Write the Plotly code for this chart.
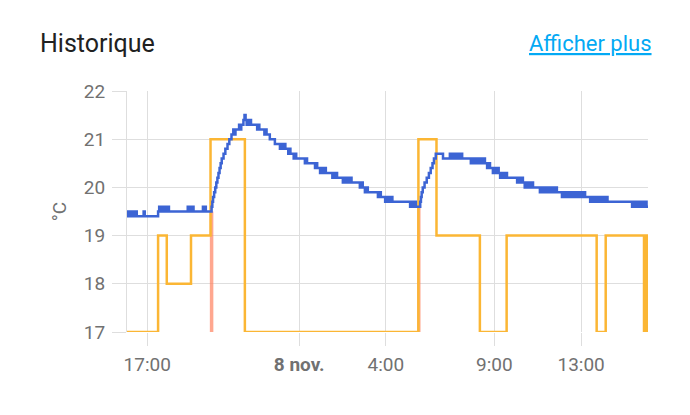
import plotly.graph_objects as go

# ---------------- data ----------------
x_start = "2023-11-07 16:04"
x_end = "2023-11-08 16:05"

tick_vals = ["2023-11-07 17:00", "2023-11-08 00:00", "2023-11-08 04:00",
             "2023-11-08 09:00", "2023-11-08 13:00"]
tick_text = ["17:00", "<b>8 nov.</b>", "4:00", "9:00", "13:00"]

y_min, y_max = 17, 22

# target temperature (orange step line)
target_times = [
    "2023-11-07 16:04", "2023-11-07 17:30", "2023-11-07 17:54", "2023-11-07 19:01",
    "2023-11-07 19:55", "2023-11-07 21:30", "2023-11-08 05:30", "2023-11-08 06:20",
    "2023-11-08 08:20", "2023-11-08 09:34", "2023-11-08 13:43", "2023-11-08 14:08",
    "2023-11-08 15:54", "2023-11-08 15:57", "2023-11-08 16:00", "2023-11-08 16:03",
    "2023-11-08 16:05",
]
target_values = [17, 19, 18, 19, 21, 17, 21, 19, 17, 19, 17, 19, 17, 19, 17, 19, 19]

# current temperature (blue step line)
current_times = [
    "2023-11-07 16:04", "2023-11-07 16:07", "2023-11-07 16:10", "2023-11-07 16:13",
    "2023-11-07 16:16", "2023-11-07 16:19", "2023-11-07 16:22", "2023-11-07 16:25",
    "2023-11-07 16:28", "2023-11-07 16:31", "2023-11-07 16:50", "2023-11-07 16:53",
    "2023-11-07 17:30", "2023-11-07 17:33", "2023-11-07 17:36", "2023-11-07 17:39",
    "2023-11-07 17:42", "2023-11-07 17:45", "2023-11-07 17:48", "2023-11-07 17:51",
    "2023-11-07 17:54", "2023-11-07 17:57", "2023-11-07 18:00", "2023-11-07 18:52",
    "2023-11-07 18:55", "2023-11-07 18:58", "2023-11-07 19:01", "2023-11-07 19:04",
    "2023-11-07 19:08", "2023-11-07 19:34", "2023-11-07 19:37", "2023-11-07 19:40",
    "2023-11-07 19:42", "2023-11-07 19:58", "2023-11-07 20:00", "2023-11-07 20:02",
    "2023-11-07 20:05", "2023-11-07 20:08", "2023-11-07 20:11", "2023-11-07 20:14",
    "2023-11-07 20:17", "2023-11-07 20:20", "2023-11-07 20:23", "2023-11-07 20:26",
    "2023-11-07 20:31", "2023-11-07 20:36", "2023-11-07 20:42", "2023-11-07 20:47",
    "2023-11-07 20:53", "2023-11-07 20:58", "2023-11-07 21:01", "2023-11-07 21:04",
    "2023-11-07 21:14", "2023-11-07 21:17", "2023-11-07 21:20", "2023-11-07 21:26",
    "2023-11-07 21:29", "2023-11-07 21:32", "2023-11-07 21:35", "2023-11-07 21:38",
    "2023-11-07 21:41", "2023-11-07 21:44", "2023-11-07 21:47", "2023-11-07 22:04",
    "2023-11-07 22:07", "2023-11-07 22:10", "2023-11-07 22:24", "2023-11-07 22:27",
    "2023-11-07 22:30", "2023-11-07 22:39", "2023-11-07 22:53", "2023-11-07 23:07",
    "2023-11-07 23:10", "2023-11-07 23:14", "2023-11-07 23:18", "2023-11-07 23:22",
    "2023-11-07 23:30", "2023-11-07 23:33", "2023-11-07 23:36", "2023-11-07 23:45",
    "2023-11-07 23:48", "2023-11-07 23:52",
    "2023-11-08 00:16", "2023-11-08 00:19", "2023-11-08 00:22", "2023-11-08 00:44",
    "2023-11-08 00:47", "2023-11-08 00:50", "2023-11-08 00:58", "2023-11-08 01:02",
    "2023-11-08 01:06", "2023-11-08 01:10", "2023-11-08 01:14", "2023-11-08 01:32",
    "2023-11-08 01:35", "2023-11-08 01:39", "2023-11-08 01:42", "2023-11-08 01:45",
    "2023-11-08 02:01", "2023-11-08 02:05", "2023-11-08 02:09", "2023-11-08 02:13",
    "2023-11-08 02:17", "2023-11-08 02:21", "2023-11-08 02:25", "2023-11-08 02:48",
    "2023-11-08 02:52", "2023-11-08 02:56", "2023-11-08 03:02", "2023-11-08 03:06",
    "2023-11-08 03:10", "2023-11-08 03:38", "2023-11-08 03:42", "2023-11-08 03:46",
    "2023-11-08 03:58", "2023-11-08 04:01", "2023-11-08 04:04", "2023-11-08 04:07",
    "2023-11-08 04:11", "2023-11-08 04:14", "2023-11-08 04:18", "2023-11-08 05:07",
    "2023-11-08 05:11", "2023-11-08 05:15", "2023-11-08 05:19", "2023-11-08 05:23",
    "2023-11-08 05:35", "2023-11-08 05:37", "2023-11-08 05:39", "2023-11-08 05:42",
    "2023-11-08 05:47", "2023-11-08 05:53", "2023-11-08 05:59", "2023-11-08 06:04",
    "2023-11-08 06:09", "2023-11-08 06:13", "2023-11-08 06:18", "2023-11-08 06:38",
    "2023-11-08 06:57", "2023-11-08 07:00", "2023-11-08 07:04", "2023-11-08 07:08",
    "2023-11-08 07:12", "2023-11-08 07:16", "2023-11-08 07:20", "2023-11-08 07:24",
    "2023-11-08 07:28", "2023-11-08 07:31", "2023-11-08 07:55", "2023-11-08 07:57",
    "2023-11-08 08:03", "2023-11-08 08:06", "2023-11-08 08:10", "2023-11-08 08:14",
    "2023-11-08 08:18", "2023-11-08 08:22", "2023-11-08 08:26", "2023-11-08 08:30",
    "2023-11-08 08:34", "2023-11-08 08:40", "2023-11-08 08:44", "2023-11-08 08:48",
    "2023-11-08 08:56", "2023-11-08 09:00", "2023-11-08 09:04", "2023-11-08 09:08",
    "2023-11-08 09:12", "2023-11-08 09:16", "2023-11-08 09:20", "2023-11-08 09:25",
    "2023-11-08 09:30", "2023-11-08 09:35", "2023-11-08 10:03", "2023-11-08 10:07",
    "2023-11-08 10:11", "2023-11-08 10:15", "2023-11-08 10:19", "2023-11-08 10:24",
    "2023-11-08 10:28", "2023-11-08 10:32", "2023-11-08 10:36", "2023-11-08 10:40",
    "2023-11-08 10:44", "2023-11-08 10:47", "2023-11-08 11:06", "2023-11-08 11:10",
    "2023-11-08 11:14", "2023-11-08 11:18", "2023-11-08 11:22", "2023-11-08 11:26",
    "2023-11-08 11:30", "2023-11-08 11:34", "2023-11-08 11:38", "2023-11-08 11:42",
    "2023-11-08 11:46", "2023-11-08 11:50", "2023-11-08 11:53", "2023-11-08 12:07",
    "2023-11-08 12:10", "2023-11-08 12:14", "2023-11-08 12:18", "2023-11-08 12:22",
    "2023-11-08 12:26", "2023-11-08 12:30", "2023-11-08 12:34", "2023-11-08 12:38",
    "2023-11-08 12:42", "2023-11-08 12:46", "2023-11-08 12:50", "2023-11-08 12:54",
    "2023-11-08 12:58", "2023-11-08 13:02", "2023-11-08 13:06", "2023-11-08 13:11",
    "2023-11-08 13:25", "2023-11-08 13:29", "2023-11-08 13:33", "2023-11-08 13:37",
    "2023-11-08 13:41", "2023-11-08 13:45", "2023-11-08 13:49", "2023-11-08 13:53",
    "2023-11-08 13:57", "2023-11-08 14:01", "2023-11-08 14:06", "2023-11-08 14:11",
    "2023-11-08 14:13", "2023-11-08 15:21", "2023-11-08 15:25", "2023-11-08 15:29",
    "2023-11-08 15:33", "2023-11-08 15:37", "2023-11-08 15:41", "2023-11-08 15:45",
    "2023-11-08 15:49", "2023-11-08 15:53", "2023-11-08 15:57", "2023-11-08 16:01",
    "2023-11-08 16:05",
]
current_values = [
    19.5, 19.4, 19.5, 19.4, 19.5, 19.4, 19.5, 19.4, 19.5, 19.4, 19.5, 19.4,
    19.5, 19.6, 19.5, 19.6, 19.5, 19.6, 19.5, 19.6, 19.5, 19.6, 19.5, 19.6,
    19.5, 19.6, 19.5, 19.6, 19.5, 19.6, 19.5, 19.6, 19.5, 19.6, 19.7, 19.8,
    19.9, 20.0, 20.1, 20.2, 20.3, 20.4, 20.5, 20.6, 20.7, 20.8, 20.9, 21.0,
    21.1, 21.2, 21.1, 21.2, 21.3, 21.2, 21.3, 21.4, 21.5, 21.4, 21.3, 21.4,
    21.3, 21.4, 21.3, 21.2, 21.3, 21.2, 21.1, 21.2, 21.1, 21.0, 20.9, 20.8,
    20.9, 20.8, 20.9, 20.8, 20.7, 20.8, 20.7, 20.6, 20.7, 20.6,
    20.5, 20.6, 20.5, 20.4, 20.5, 20.4, 20.3, 20.4, 20.3, 20.4, 20.3, 20.2,
    20.3, 20.2, 20.3, 20.2, 20.1, 20.2, 20.1, 20.2, 20.1, 20.2, 20.1, 20.0,
    20.1, 20.0, 19.9, 20.0, 19.9, 19.8, 19.9, 19.8, 19.7, 19.8, 19.7, 19.8,
    19.7, 19.8, 19.7, 19.6, 19.7, 19.6, 19.7, 19.6, 19.7, 19.8, 19.9, 20.0,
    20.1, 20.2, 20.3, 20.4, 20.5, 20.6, 20.7, 20.6, 20.7, 20.6, 20.7, 20.6,
    20.7, 20.6, 20.7, 20.6, 20.7, 20.6, 20.5, 20.6, 20.5, 20.6, 20.5, 20.6,
    20.5, 20.6, 20.5, 20.6, 20.5, 20.4, 20.5, 20.4, 20.3, 20.4, 20.3, 20.4,
    20.3, 20.2, 20.3, 20.2, 20.3, 20.2, 20.1, 20.2, 20.1, 20.2, 20.1, 20.0,
    20.1, 20.0, 20.1, 20.0, 20.1, 20.0, 19.9, 20.0, 19.9, 20.0, 19.9, 20.0,
    19.9, 20.0, 19.9, 20.0, 19.9, 20.0, 19.9, 19.8, 19.9, 19.8, 19.9, 19.8,
    19.9, 19.8, 19.9, 19.8, 19.9, 19.8, 19.9, 19.8, 19.9, 19.8, 19.9, 19.8,
    19.7, 19.8, 19.7, 19.8, 19.7, 19.8, 19.7, 19.8, 19.7, 19.8, 19.7, 19.8,
    19.7, 19.6, 19.7, 19.6, 19.7, 19.6, 19.7, 19.6, 19.7, 19.6, 19.7, 19.6,
    19.6,
]

# short heating periods (thin shaded slivers)
heating_times = ["2023-11-07 19:58", "2023-11-08 05:31"]
heating_tops = [19.5, 19.6]

# ---------------- styles ----------------
BLUE = "#3c64d4"
ORANGE = "#fbb634"
HEAT = "rgba(255,130,95,0.7)"
GRID = "#dedede"
TICK_FONT = dict(family="Roboto", size=19, color="#717171")

# page body has an 8px margin: size the figure so it fits the 690x415 window
W, H = 674, 399

fig = go.Figure()

for t, top in zip(heating_times, heating_tops):
    fig.add_trace(go.Scatter(
        x=[t, t], y=[y_min, top], mode="lines",
        line=dict(color=HEAT, width=3.5), hoverinfo="skip", showlegend=False))

fig.add_trace(go.Scatter(
    x=target_times, y=target_values, mode="lines", name="Cible",
    line=dict(color=ORANGE, width=2.5, shape="hv"), showlegend=False))

fig.add_trace(go.Scatter(
    x=current_times, y=current_values, mode="lines", name="Température actuelle",
    line=dict(color=BLUE, width=2.5, shape="hv"), showlegend=False))

fig.update_layout(
    width=W, height=H,
    margin=dict(l=119, r=34, t=83, b=75),
    paper_bgcolor="white", plot_bgcolor="white",
    title=dict(text="Historique", x=32 / W, xanchor="left", xref="container",
               y=1 - 35 / H, yanchor="middle", yref="container",
               font=dict(family="Roboto", size=25, color="#212121")),
    annotations=[dict(
        text="<u>Afficher plus</u>", xref="paper", yref="paper",
        x=(654 - 127) / 521, y=(332 - 43) / 241, xanchor="right", yanchor="middle",
        showarrow=False, font=dict(family="Roboto", size=22, color="#03a9f4"))],
    xaxis=dict(
        type="date", range=[x_start, x_end],
        tickmode="array", tickvals=tick_vals, ticktext=tick_text,
        showgrid=True, gridcolor=GRID, gridwidth=1,
        ticks="outside", ticklen=13, tickcolor=GRID, tickwidth=1,
        tickfont=TICK_FONT, ticklabelstandoff=2, zeroline=False, showline=False),
    yaxis=dict(
        range=[y_min, y_max], tick0=17, dtick=1,
        showgrid=True, gridcolor=GRID, gridwidth=1,
        ticks="outside", ticklen=14, tickcolor=GRID, tickwidth=1,
        tickfont=TICK_FONT, ticklabelstandoff=3, zeroline=False,
        showline=True, linecolor=GRID, linewidth=1,
        title=dict(text="°C", font=TICK_FONT, standoff=12)),
    hovermode=False,
)

fig.write_html("out.html")
